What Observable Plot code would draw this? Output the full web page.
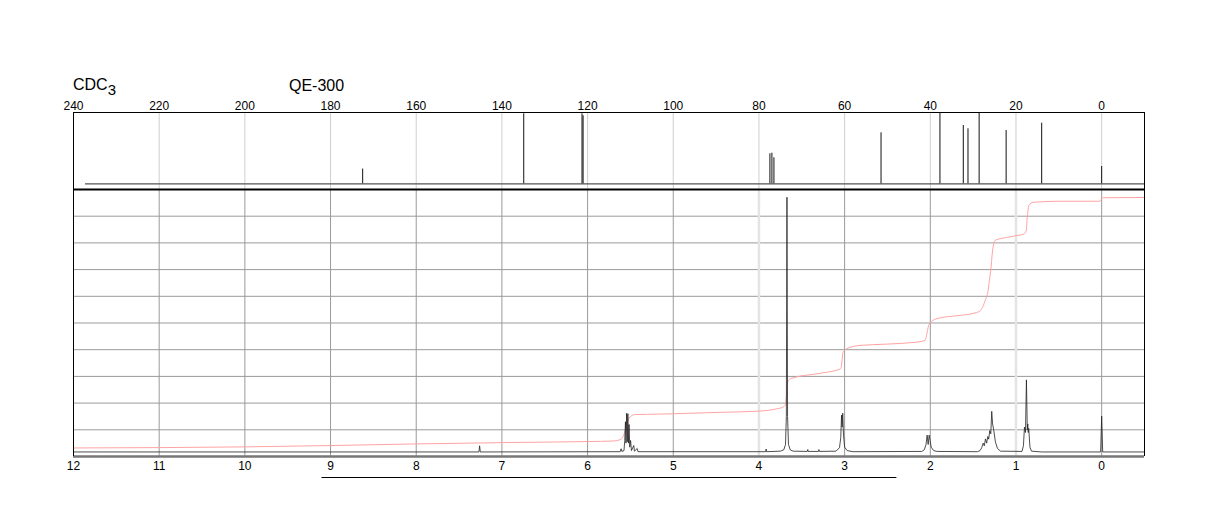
<!DOCTYPE html>
<html>
<head>
<meta charset="utf-8">
<script src="https://cdn.jsdelivr.net/npm/d3@7"></script>
<script src="https://cdn.jsdelivr.net/npm/@observablehq/plot@0.6"></script>
<style>
  html, body { margin: 0; padding: 0; background: #fff; }
  #wrap { position: relative; width: 1224px; height: 528px; overflow: hidden; font-family: "Liberation Sans", Arial, sans-serif; }
  #wrap svg { position: absolute; left: 0; top: 0; }
  .ttl { position: absolute; font-size: 16px; line-height: 16px; color: #000; white-space: nowrap; }
  .ttl sub { font-size: 15px; position: relative; top: 5px; vertical-align: baseline; }
</style>
</head>
<body>
<div id="wrap">
  <div class="ttl" style="left:73px; top:77px;">CDC<sub>3</sub></div>
  <div class="ttl" style="left:289px; top:78px;">QE-300</div>
</div>
<script>
// ---------- 13C panel (top) ----------
const c13Domain = [240, -10];
const c13Ticks = [240, 220, 200, 180, 160, 140, 120, 100, 80, 60, 40, 20, 0];
const c13Baseline = [{from: 237.2, to: -10}];
const c13Peaks = [
  {ppm: 172.5, h: 14.7},
  {ppm: 134.9, h: 70},
  {ppm: 121.3, h: 70},
  {ppm: 121.05, h: 68},
  {ppm: 77.44, h: 30},
  {ppm: 76.97, h: 30.6},
  {ppm: 76.5, h: 26},
  {ppm: 51.5, h: 51},
  {ppm: 37.75, h: 70.6},
  {ppm: 32.3, h: 58.3},
  {ppm: 31.2, h: 55},
  {ppm: 28.6, h: 70.6},
  {ppm: 22.3, h: 53.3},
  {ppm: 14.0, h: 60.6},
  {ppm: 0.0, h: 17.3}
];

// ---------- 1H panel (bottom) ----------
const h1Domain = [12, -0.5];
const h1Ticks = [12, 11, 10, 9, 8, 7, 6, 5, 4, 3, 2, 1, 0];
const h1LightGrid = [4, 1];
const h1HGrid = [1, 2, 3, 4, 5, 6, 7, 8, 9];
const underline = [{from: 9.1, to: 2.39}];

// spectrum points [ppm, intensity]
const h1Spectrum = [
  [12, 0.17], [7.268, 0.17], [7.26, 0.40], [7.252, 0.17],
  [5.62, 0.18], [5.608, 0.29], [5.60, 0.19], [5.575, 0.22], [5.566, 0.6],
  [5.558, 1.3], [5.552, 0.5], [5.544, 1.62], [5.537, 0.55], [5.530, 1.6],
  [5.523, 0.5], [5.516, 1.2], [5.508, 0.35], [5.498, 0.6], [5.488, 0.22],
  [5.461, 0.41], [5.453, 0.2], [5.421, 0.3], [5.412, 0.18],
  [3.922, 0.18], [3.916, 0.28], [3.910, 0.18],
  [3.75, 0.2], [3.71, 0.25], [3.69, 0.45], [3.68, 1.5], [3.673, 9.71],
  [3.666, 1.5], [3.655, 0.45], [3.635, 0.25], [3.60, 0.2],
  [3.436, 0.19], [3.43, 0.26], [3.424, 0.19],
  [3.306, 0.19], [3.30, 0.26], [3.294, 0.19],
  [3.10, 0.2], [3.06, 0.33], [3.045, 0.7], [3.036, 1.55], [3.029, 1.1],
  [3.022, 1.62], [3.013, 0.8], [3.0, 0.35], [2.97, 0.22], [2.9, 0.18],
  [2.10, 0.19], [2.07, 0.25], [2.05, 0.45], [2.037, 0.8], [2.025, 0.45],
  [2.013, 0.8], [2.002, 0.6], [1.99, 0.35], [1.96, 0.22], [1.92, 0.19],
  [1.45, 0.18], [1.42, 0.22], [1.40, 0.33], [1.383, 0.5], [1.37, 0.4],
  [1.356, 0.66], [1.342, 0.5], [1.329, 0.75], [1.318, 0.65], [1.306, 0.97],
  [1.294, 0.85], [1.283, 1.69], [1.273, 1.22], [1.26, 1.0], [1.24, 0.55],
  [1.216, 0.3], [1.181, 0.2],
  [0.93, 0.19], [0.913, 0.4], [0.901, 1.1], [0.889, 0.9], [0.878, 2.87],
  [0.868, 1.0], [0.862, 1.22], [0.857, 0.9], [0.851, 1.05], [0.837, 0.35],
  [0.819, 0.2], [0.7, 0.17],
  [0.012, 0.17], [0.0, 1.51], [-0.012, 0.17], [-0.5, 0.17]
];

// integral curve points [ppm, value]
const h1Integral = [
  [12, 0.32], [10, 0.36], [9, 0.41], [8, 0.47], [7, 0.52], [6, 0.56],
  [5.7, 0.58], [5.62, 0.63], [5.58, 0.79], [5.555, 1.05], [5.535, 1.31],
  [5.515, 1.44], [5.49, 1.52], [5.45, 1.57], [5.3, 1.58], [5, 1.6],
  [4.5, 1.65], [4, 1.7], [3.8, 1.78], [3.72, 1.85], [3.69, 1.95],
  [3.678, 2.28], [3.67, 2.66], [3.66, 2.82], [3.64, 2.9], [3.62, 2.93],
  [3.3, 3.11], [3.05, 3.28], [3.04, 3.33], [3.028, 3.67], [3.02, 3.9],
  [3.0, 3.98], [2.98, 4.03], [2.82, 4.16], [2.5, 4.21], [2.2, 4.27],
  [2.1, 4.31], [2.06, 4.36], [2.04, 4.6], [2.02, 4.9], [2.0, 5.0],
  [1.97, 5.1], [1.9, 5.18], [1.7, 5.27], [1.5, 5.36], [1.42, 5.45],
  [1.36, 5.84], [1.325, 6.22], [1.31, 6.6], [1.29, 7.1], [1.28, 7.5],
  [1.26, 7.97], [1.24, 8.1], [1.1, 8.21], [1.0, 8.27], [0.91, 8.33],
  [0.88, 8.46], [0.87, 8.9], [0.86, 9.2], [0.85, 9.4], [0.80, 9.52],
  [0.5, 9.56], [0.02, 9.56], [0.0, 9.66], [-0.02, 9.69], [-0.5, 9.7]
];

const font = '"Liberation Sans", Arial, sans-serif';
const wrap = document.getElementById("wrap");

const topPlot = Plot.plot({
  width: 1224, height: 200,
  marginLeft: 73, marginRight: 80, marginTop: 112, marginBottom: 11,
  style: {background: "transparent", fontFamily: font, fontSize: "12px", color: "#000"},
  x: {domain: c13Domain, label: null},
  y: {domain: [-5.7, 71.3], axis: null},
  marks: [
    Plot.ruleX(c13Ticks, {stroke: "#cfcfcf", strokeWidth: 1}),
    Plot.ruleY(c13Baseline, {x1: "from", x2: "to", y: () => 0, stroke: "#555", strokeWidth: 1.2}),
    Plot.ruleX(c13Peaks, {x: "ppm", y1: () => 0, y2: "h", stroke: "#111", strokeWidth: 1}),
    Plot.axisX({anchor: "top", ticks: c13Ticks, tickSize: 0, tickPadding: 3, fontSize: 12, label: null, tickFormat: d => String(d)}),
    Plot.frame({stroke: "#000"})
  ]
});
wrap.appendChild(topPlot);

const botPlot = Plot.plot({
  width: 1224, height: 528,
  marginLeft: 73, marginRight: 80, marginTop: 189, marginBottom: 72,
  style: {background: "transparent", fontFamily: font, fontSize: "12px", color: "#000"},
  x: {domain: h1Domain, label: null},
  y: {domain: [0, 10], axis: null},
  marks: [
    Plot.ruleY(h1HGrid, {stroke: "#9a9a9a", strokeWidth: 1}),
    Plot.ruleX(h1Ticks, {stroke: "#9a9a9a", strokeWidth: 1}),
    Plot.ruleX(h1LightGrid, {stroke: "#e4e4e4", strokeWidth: 2.5}),
    Plot.line(h1Integral, {x: d => d[0], y: d => d[1], stroke: "#ffa3a3", strokeWidth: 1, curve: "monotone-x"}),
    Plot.line(h1Spectrum, {x: d => d[0], y: d => d[1], stroke: "#222", strokeWidth: 0.8}),
    Plot.ruleY([0], {stroke: "#777", strokeWidth: 2.5}),
    Plot.ruleX(h1Domain, {y1: () => 0, y2: () => 10, stroke: "#000", strokeWidth: 1}),
    Plot.ruleY([10], {stroke: "#000", strokeWidth: 2}),
    Plot.ruleY(underline, {x1: "from", x2: "to", y: () => 0, dy: 21, stroke: "#000", strokeWidth: 1.2}),
    Plot.axisX({anchor: "bottom", ticks: h1Ticks, tickSize: 0, tickPadding: 5, fontSize: 12, label: null, tickFormat: d => String(d)})
  ]
});
wrap.appendChild(botPlot);
</script>
</body>
</html>
